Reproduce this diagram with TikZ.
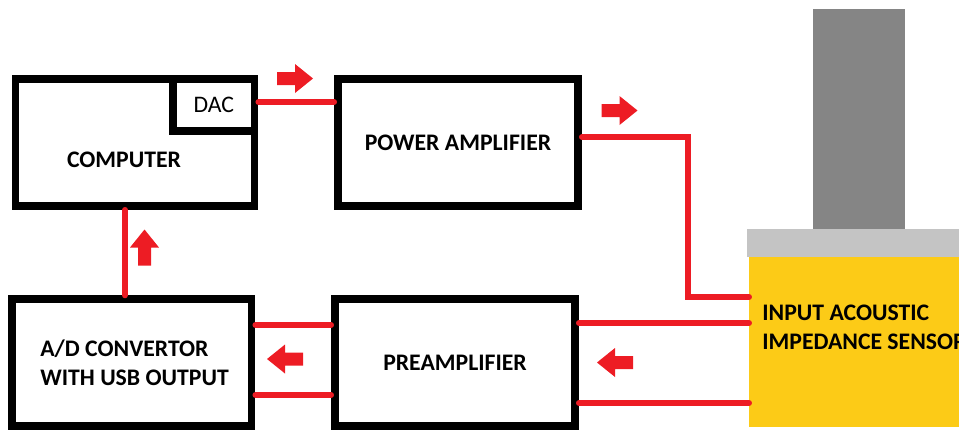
\documentclass[tikz,border=0pt]{standalone}
\usepackage{fontspec}
\setmainfont{Carlito}

\definecolor{wirered}{HTML}{ED1C24}
\definecolor{sensoryellow}{HTML}{FCCB17}
\definecolor{rodgray}{HTML}{858585}
\definecolor{basegray}{HTML}{C4C4C4}

\begin{document}
\begin{tikzpicture}[x=0.2mm,y=-0.2mm,
  blk/.style={draw,line width=4.5pt,inner sep=0pt,minimum height=25.4mm,
    font=\bfseries\fontsize{13.5}{16.4}\selectfont},
  lbl/.style={font=\bfseries\fontsize{13.5}{16.4}\selectfont,inner sep=0pt,align=left},
  wire/.style={wirered,line width=3.4pt,line cap=round},
  pics/fatarrow/.style={code={
    \fill[wirered] (-18,-6.5)--(0,-6.5)--(0,-14.5)--(18,0)--(0,14.5)--(0,6.5)--(-18,6.5)--cycle;}}]
  \useasboundingbox (0,0) rectangle (959,430);
  % sensor
  \fill[rodgray] (813,9) rectangle (905,229);
  \fill[basegray] (747,229) rectangle (965,257);
  \node[fill=sensoryellow,minimum width=43mm,minimum height=34mm,inner sep=0pt,
    anchor=north west] (sensor) at (749,257) {};
  \node[lbl,anchor=west] (sensortxt) at (762,327.5) {INPUT ACOUSTIC\\IMPEDANCE SENSOR};
  % blocks
  \node[blk,minimum width=47.8mm] (computer) at (135,142.5) {};
  \node[lbl] at (124,160) {COMPUTER};
  \node[blk,minimum width=16.3mm,minimum height=10.4mm,
    font=\fontsize{13.5}{16}\selectfont] (dac) at (213.75,105) {DAC};
  \node[blk,minimum width=48mm] (poweramp) at (458,142.5) {POWER AMPLIFIER};
  \node[blk,minimum width=48mm] (preamp) at (455,362.5) {PREAMPLIFIER};
  \node[blk,minimum width=47.9mm] (adc) at (131.75,362.75) {};
  \node[lbl,anchor=west] at (40,362.5) {A/D CONVERTOR\\WITH USB OUTPUT};
  % wires
  \coordinate (bend) at (688,297);
  \draw[wire] ([yshift=0.6mm]dac.east) -- ([yshift=0.6mm]dac.east -| poweramp.west);
  \draw[wire] ([yshift=1.1mm]poweramp.east) -| (bend) -- (bend -| sensor.west);
  \draw[wire] ([yshift=7.9mm]preamp.east) -- ([yshift=7.9mm]preamp.east -| sensor.west);
  \draw[wire] ([yshift=-8.1mm]preamp.east) -- ([yshift=-8.1mm]preamp.east -| sensor.west);
  \draw[wire] ([yshift=7.5mm]preamp.west) -- ([yshift=7.5mm]preamp.west -| adc.east);
  \draw[wire] ([yshift=-6.5mm]preamp.west) -- ([yshift=-6.5mm]preamp.west -| adc.east);
  \draw[wire] ([xshift=-1.35mm]adc.north) -- ([xshift=-1.35mm]adc.north |- computer.south);
  % direction arrows
  \pic at (295,78.5) {fatarrow};
  \pic at (619.5,110.5) {fatarrow};
  \pic[rotate=90] at (144.5,247.5) {fatarrow};
  \pic[rotate=180] at (285,359) {fatarrow};
  \pic[rotate=180] at (615,362.5) {fatarrow};
\end{tikzpicture}
\end{document}
